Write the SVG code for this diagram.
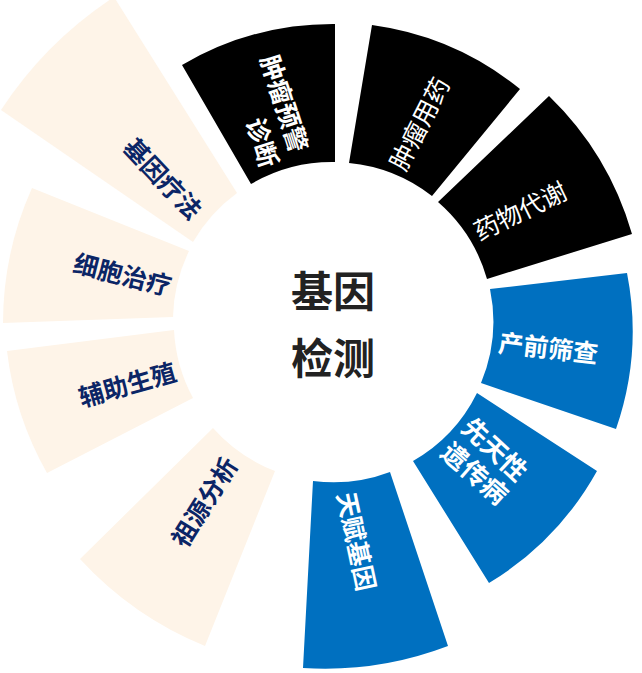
<svg xmlns="http://www.w3.org/2000/svg" width="642" height="673" viewBox="0 0 642 673">
<style>
.blk{fill:#000000}
.blu{fill:#0070c0}
.bei{fill:#fef4e8}
text{font-family:"Noto Sans CJK SC","Noto Sans",sans-serif;text-anchor:middle;dominant-baseline:central}
.w{fill:#ffffff;font-size:25px;font-weight:bold}
.wr{fill:#ffffff;font-size:25px;font-weight:normal}
.n{fill:#0b2566;font-size:25px;font-weight:bold}
.c{fill:#222222;font-size:42px;font-weight:bold}
</style>
<rect width="642" height="673" fill="#ffffff"/>
<g id="seg-zhongliu-yujing">
<path class="blk" d="M182,65 A298,298 0 0 1 335,24 L335,162 A160,160 0 0 0 251,184 Z"/>
<text class="w" transform="translate(286,103) rotate(72)">肿瘤预警</text>
<text class="w" transform="translate(264,142) rotate(72)">诊断</text>
</g>
<g id="seg-zhongliu-yongyao">
<path class="blk" d="M372,25 A299,299 0 0 1 520,89 L432,196 A160,160 0 0 0 349,163 Z"/>
<text class="wr" transform="translate(418,123) rotate(-63)">肿瘤用药</text>
</g>
<g id="seg-yaowu-daixie">
<path class="blk" d="M549,96 A312,312 0 0 1 632,234 L487,279 A160,160 0 0 0 438,202 Z"/>
<text class="wr" transform="translate(519.5,209.5) rotate(-26)">药物代谢</text>
</g>
<g id="seg-chanqian-shaicha">
<path class="blu" d="M627,273 A300,300 0 0 1 616,429 L481,383 A160,160 0 0 0 490,289 Z"/>
<text class="w" transform="translate(548.5,346.5) rotate(6.6)">产前筛查</text>
</g>
<g id="seg-xiantianxing">
<path class="blu" d="M597,471 A303,303 0 0 1 489,583 L413,461 A160,160 0 0 0 477,393 Z"/>
<text class="w" style="font-size:26px" transform="translate(496,448) rotate(43)">先天性</text>
<text class="w" style="font-size:26px" transform="translate(476,472) rotate(41)">遗传病</text>
</g>
<g id="seg-tianfu-jiyin">
<path class="blu" d="M448,646 A346,346 0 0 1 303,668 L313,481 A160,160 0 0 0 390,472 Z"/>
<text class="w" transform="translate(358,541) rotate(78)">天赋基因</text>
</g>
<g id="seg-zuyuan-fenxi">
<path class="bei" d="M205,646 A348,348 0 0 1 80,559 L213,428 A160,160 0 0 0 275,471 Z"/>
<text class="n" transform="translate(203,501) rotate(-58)">祖源分析</text>
</g>
<g id="seg-fuzhu-shengzhi">
<path class="bei" d="M47,473 A325,325 0 0 1 7,351 L174,330 A160,160 0 0 0 193,398 Z"/>
<text class="n" transform="translate(127,383) rotate(-16)">辅助生殖</text>
</g>
<g id="seg-xibao-zhiliao">
<path class="bei" d="M3,323 A330,330 0 0 1 32,188 L189,251 A160,160 0 0 0 173,317 Z"/>
<text class="n" transform="translate(123,273) rotate(14)">细胞治疗</text>
</g>
<g id="seg-jiyin-liaofa">
<path class="bei" d="M1,110 A392,392 0 0 1 114,-3 L237,193 A160,160 0 0 0 193,242 Z"/>
<text class="n" transform="translate(164,177.5) rotate(46.6)">基因疗法</text>
</g>
<g id="center">
<text class="c" x="333" y="288">基因</text>
<text class="c" x="333" y="355">检测</text>
</g>
<g id="connectors"></g>
</svg>
